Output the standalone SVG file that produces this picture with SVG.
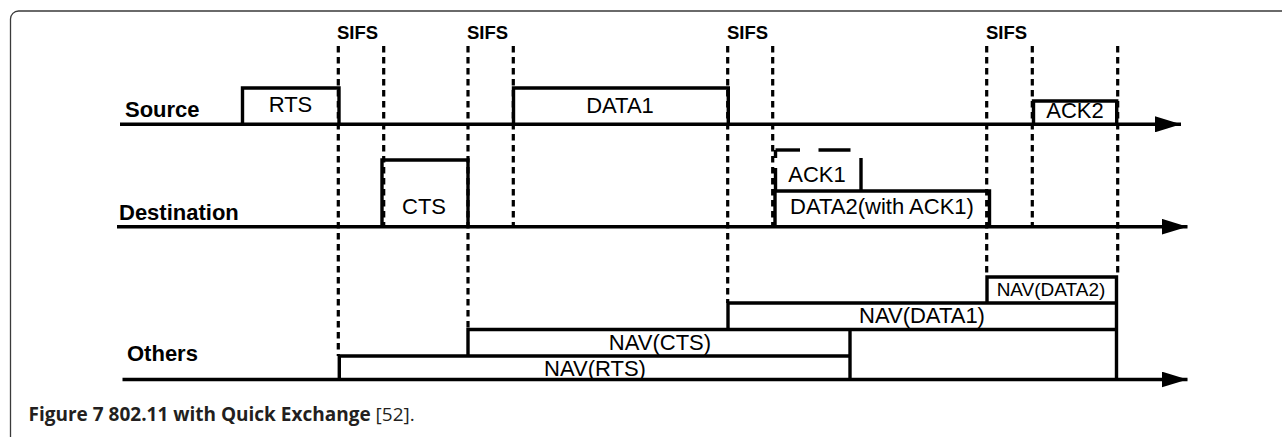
<svg xmlns="http://www.w3.org/2000/svg" width="1282" height="437" viewBox="0 0 1282 437">
<defs>
<style>
.frame{fill:none;stroke:#3a3a3a;stroke-width:1.3}
.ax{stroke:#000;stroke-width:3.4;fill:none}
.box{stroke:#000;stroke-width:3.4;fill:none;stroke-linejoin:miter}
.dash{stroke:#000;stroke-width:3.2;stroke-dasharray:6.5 4.5;fill:none}
.lbl{font-family:"Liberation Sans",Arial,sans-serif;font-size:22px;font-weight:bold;fill:#000}
.sifs{font-family:"Liberation Sans",Arial,sans-serif;font-size:18.5px;font-weight:bold;fill:#000}
.t{font-family:"Liberation Sans",Arial,sans-serif;font-size:22px;fill:#000;text-anchor:middle}
.ts{font-family:"Liberation Sans",Arial,sans-serif;font-size:19px;fill:#000;text-anchor:middle}
.cap{font-family:"Open Sans","Noto Sans",sans-serif;font-size:19px;fill:#231f20}
</style>
<marker id="arr" markerWidth="26" markerHeight="16" refX="26" refY="8" orient="auto" markerUnits="userSpaceOnUse">
<path d="M0,0 L26,8 L0,16 Z" fill="#000"/>
</marker>
</defs>
<rect x="0" y="0" width="1282" height="437" fill="#fff"/>
<rect class="frame" x="10.5" y="11" width="1300" height="450" rx="8" ry="8"/>

<g id="connectors">
<line class="ax" x1="120" y1="124.3" x2="1181" y2="124.3" marker-end="url(#arr)"/>
<line class="ax" x1="117" y1="226.7" x2="1187.5" y2="226.7" marker-end="url(#arr)"/>
<line class="ax" x1="122.5" y1="379.5" x2="1187.5" y2="379.5" marker-end="url(#arr)"/>
<line class="dash" x1="338.3" y1="46" x2="338.3" y2="356"/>
<line class="dash" x1="383.7" y1="46" x2="383.7" y2="226"/>
<line class="dash" x1="468" y1="46" x2="468" y2="329.5"/>
<line class="dash" x1="513.3" y1="46" x2="513.3" y2="226"/>
<line class="dash" x1="727.7" y1="46" x2="727.7" y2="303"/>
<line class="dash" x1="772.7" y1="46" x2="772.7" y2="226"/>
<line class="dash" x1="986.7" y1="46" x2="986.7" y2="277"/>
<line class="dash" x1="1032.3" y1="46" x2="1032.3" y2="226"/>
<line class="dash" x1="1117.7" y1="46" x2="1117.7" y2="277"/>
</g>

<g id="sifs-labels">
<text class="sifs" x="337" y="39">SIFS</text>
<text class="sifs" x="467" y="39">SIFS</text>
<text class="sifs" x="727" y="39">SIFS</text>
<text class="sifs" x="986" y="39">SIFS</text>
</g>

<g id="row-labels">
<text class="lbl" x="125" y="117">Source</text>
<text class="lbl" x="119" y="220">Destination</text>
<text class="lbl" x="127" y="361">Others</text>
</g>

<g id="rts">
<path class="box" d="M242.5,124.3 V88 H339 V124.3"/>
<text class="t" x="290.5" y="112">RTS</text>
</g>
<g id="data1">
<path class="box" d="M513.5,124.3 V88 H728.3 V124.3"/>
<text class="t" x="620" y="113">DATA1</text>
</g>
<g id="ack2">
<path class="box" d="M1033.5,124.3 V101 H1116.7 V124.3"/>
<text class="t" x="1075" y="118">ACK2</text>
</g>
<g id="cts">
<path class="box" d="M382,226.7 V160 H468 V226.7"/>
<text class="t" x="424" y="214">CTS</text>
</g>
<g id="data2">
<path class="box" d="M775,226.7 V191 H989.5 V226.7"/>
<text class="t" x="882" y="214">DATA2(with ACK1)</text>
</g>
<g id="ack1">
<path class="box" d="M775.5,150 H800"/>
<path class="box" d="M818.5,150 H850.5"/>
<path class="box" d="M775.5,150 V158"/>
<path class="box" d="M775.5,168 V191"/>
<path class="box" d="M861,158 V191"/>
<text class="t" x="817" y="182">ACK1</text>
</g>
<g id="nav-rts">
<path class="box" d="M339.3,379.5 V356 H850"/>
<text class="t" x="595" y="376">NAV(RTS)</text>
</g>
<g id="nav-cts">
<path class="box" d="M468,356 V329.5 H1116"/>
<path class="box" d="M850,329.5 V379.5"/>
<text class="t" x="660" y="350">NAV(CTS)</text>
</g>
<g id="nav-data1">
<path class="box" d="M728,329.5 V303 H1116"/>
<text class="t" x="922" y="323">NAV(DATA1)</text>
</g>
<g id="nav-data2">
<path class="box" d="M987,303 V277 H1116.5 V379.5"/>
<text class="ts" x="1051" y="296">NAV(DATA2)</text>
</g>

<text class="cap" x="28.5" y="421"><tspan font-weight="bold">Figure 7 802.11 with Quick Exchange</tspan> [52].</text>
</svg>
